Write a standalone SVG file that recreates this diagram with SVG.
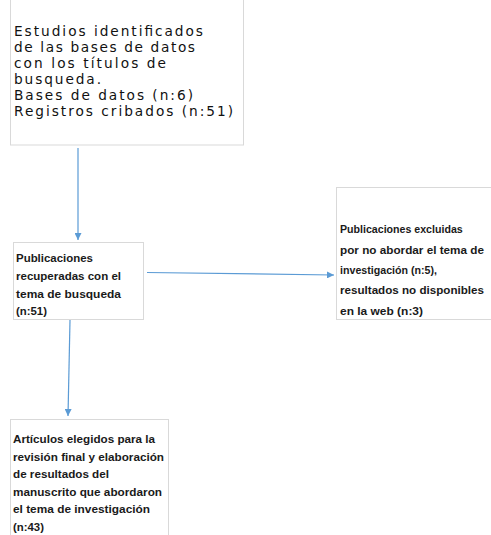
<svg xmlns="http://www.w3.org/2000/svg" width="491" height="535" viewBox="0 0 491 535">
<style>
.box{fill:#fff;stroke:#d9d9d9;stroke-width:1}
.t1{font-family:"DejaVu Sans","Open Sans",sans-serif;font-size:13.7px;fill:#111}
.t2{font-family:"Liberation Sans",Arial,sans-serif;font-size:11px;font-weight:bold;fill:#1a1a1a}
.edge{fill:none;stroke:#5b9bd5;stroke-width:1.2}
</style>
<defs>
<marker id="ah" viewBox="0 0 10 10" refX="10" refY="5" markerWidth="7" markerHeight="7" orient="auto" markerUnits="userSpaceOnUse">
<path d="M0,0 L10,5 L0,10 z" fill="#5b9bd5"/>
</marker>
</defs>
<rect width="491" height="535" fill="#fff"/>
<g id="connectors">
<path class="edge" d="M78,148 L78,240" marker-end="url(#ah)"/>
<path class="edge" d="M147,272.5 L334,275" marker-end="url(#ah)"/>
<path class="edge" d="M70,320 L68,416" marker-end="url(#ah)"/>
</g>
<g id="node-estudios">
<rect class="box" x="10.5" y="-5" width="233" height="150"/>
<text class="t1" x="14" y="35.5" textLength="189" lengthAdjust="spacing">Estudios identificados</text>
<text class="t1" x="14" y="51.5" textLength="181" lengthAdjust="spacing">de las bases de datos</text>
<text class="t1" x="14" y="67.5" textLength="152" lengthAdjust="spacing">con los títulos de</text>
<text class="t1" x="14" y="83.5" textLength="87" lengthAdjust="spacing">busqueda.</text>
<text class="t1" x="14" y="99.5" textLength="179" lengthAdjust="spacing">Bases de datos (n:6)</text>
<text class="t1" x="14" y="115.5" textLength="219" lengthAdjust="spacing">Registros cribados (n:51)</text>
</g>
<g id="node-recuperadas">
<rect class="box" x="13.5" y="242.5" width="130" height="77"/>
<text class="t2" x="16" y="261.5" textLength="77" lengthAdjust="spacingAndGlyphs">Publicaciones</text>
<text class="t2" x="16" y="279.5" textLength="105" lengthAdjust="spacingAndGlyphs">recuperadas con el</text>
<text class="t2" x="16" y="297.5" textLength="105" lengthAdjust="spacingAndGlyphs">tema de busqueda</text>
<text class="t2" x="16" y="315" textLength="31" lengthAdjust="spacingAndGlyphs">(n:51)</text>
</g>
<g id="node-excluidas">
<rect class="box" x="336.5" y="187.5" width="160" height="132"/>
<text class="t2" x="340" y="233" textLength="122.7" lengthAdjust="spacingAndGlyphs">Publicaciones excluidas</text>
<text class="t2" x="340" y="253.5" textLength="144" lengthAdjust="spacingAndGlyphs">por no abordar el tema de</text>
<text class="t2" x="340" y="274" textLength="97" lengthAdjust="spacingAndGlyphs">investigación (n:5),</text>
<text class="t2" x="340" y="294" textLength="144" lengthAdjust="spacingAndGlyphs">resultados no disponibles</text>
<text class="t2" x="340" y="314.5" textLength="83" lengthAdjust="spacingAndGlyphs">en la web (n:3)</text>
</g>
<g id="node-articulos">
<rect class="box" x="10.5" y="419.5" width="158" height="130"/>
<text class="t2" x="13" y="443" textLength="142" lengthAdjust="spacingAndGlyphs">Artículos elegidos para la</text>
<text class="t2" x="13" y="460.5" textLength="151" lengthAdjust="spacingAndGlyphs">revisión final y elaboración</text>
<text class="t2" x="13" y="478" textLength="96" lengthAdjust="spacingAndGlyphs">de resultados del</text>
<text class="t2" x="13" y="495.5" textLength="149" lengthAdjust="spacingAndGlyphs">manuscrito que abordaron</text>
<text class="t2" x="13" y="513" textLength="137" lengthAdjust="spacingAndGlyphs">el tema de investigación</text>
<text class="t2" x="13" y="530.5" textLength="31" lengthAdjust="spacingAndGlyphs">(n:43)</text>
</g>
</svg>
